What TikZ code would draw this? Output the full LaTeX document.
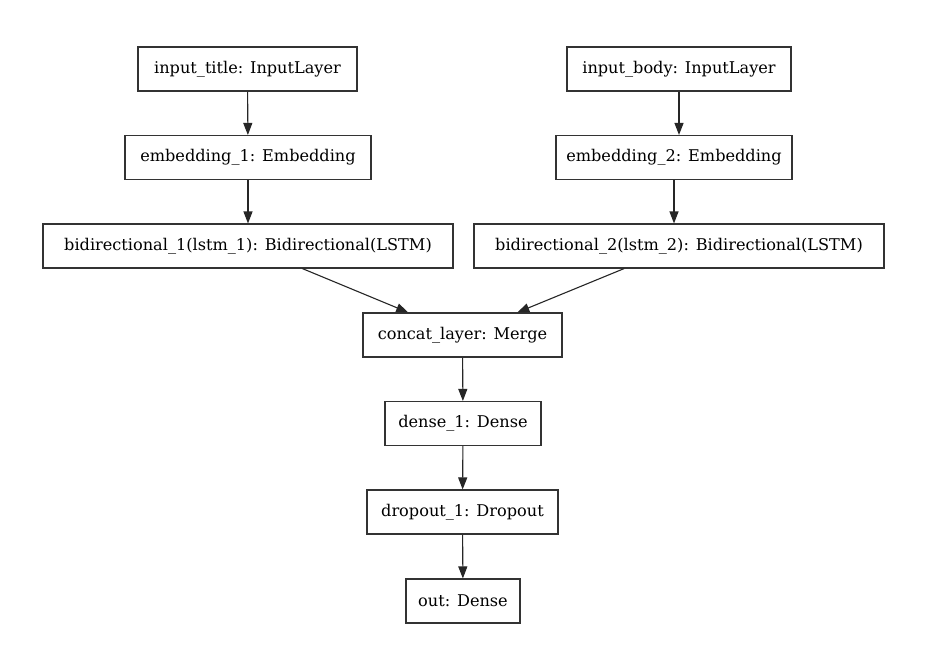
\documentclass[tikz,border=0pt]{standalone}
\usepackage{fontspec}
\setmainfont{DejaVu Serif}
\usetikzlibrary{arrows.meta}
\begin{document}
\begin{tikzpicture}[x=1bp,y=-1bp,
  layer/.style={draw=black!80,line width=1.1bp,minimum height=44bp,inner sep=0pt,font=\fontsize{16.2}{19}\selectfont,fill=white},
  conn/.style={draw=black!85,line width=1.1bp,-{Triangle[length=12bp,width=9bp]}}]
\useasboundingbox[fill=white] (0,0) rectangle (940,664);
\node[layer,minimum width=219bp] (it) at (247.5,69) {input\_title: InputLayer};
\node[layer,minimum width=224bp] (ib) at (679,69) {input\_body: InputLayer};
\node[layer,minimum width=246bp] (e1) at (248,157.5) {embedding\_1: Embedding};
\node[layer,minimum width=236bp] (e2) at (674,157.5) {embedding\_2: Embedding};
\node[layer,minimum width=410bp] (b1) at (248,246) {bidirectional\_1(lstm\_1): Bidirectional(LSTM)};
\node[layer,minimum width=410bp] (b2) at (679,246) {bidirectional\_2(lstm\_2): Bidirectional(LSTM)};
\node[layer,minimum width=199bp] (cc) at (462.5,335) {concat\_layer: Merge};
\node[layer,minimum width=156bp] (d1) at (463,423.5) {dense\_1: Dense};
\node[layer,minimum width=191bp] (dr) at (462.5,512) {dropout\_1: Dropout};
\node[layer,minimum width=114bp] (out) at (463,601) {out: Dense};
\draw[conn] (it) -- (e1);
\draw[conn] (ib) -- (ib|-e2.north);
\draw[conn] (e1) -- (b1);
\draw[conn] (e2) -- (e2|-b2.north);
\draw[conn] (b1) -- (cc);
\draw[conn] (b2) -- (cc);
\draw[conn] (cc) -- (d1);
\draw[conn] (d1) -- (dr);
\draw[conn] (dr) -- (out);
\end{tikzpicture}
\end{document}
